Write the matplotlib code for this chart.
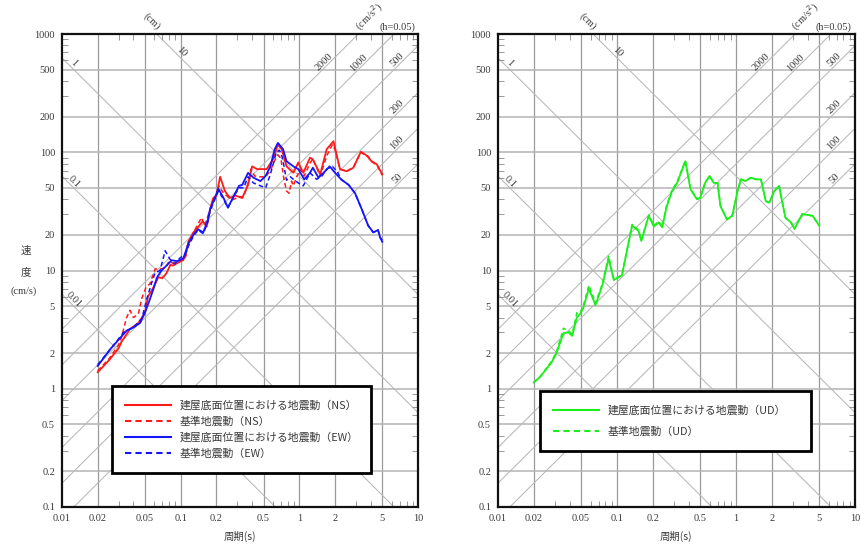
import numpy as np
import matplotlib
matplotlib.use("Agg")
import matplotlib.pyplot as plt
from matplotlib.ticker import FixedLocator, NullFormatter, LogLocator
from matplotlib.patches import Rectangle
from matplotlib.lines import Line2D

# ---------------- data ----------------
# NS: building-base motion (solid red) and reference ground motion (dashed red)
ns_bld_T = [0.02, 0.025, 0.03, 0.0318, 0.035, 0.0374, 0.044, 0.05, 0.053, 0.059, 0.065, 0.07, 0.076,
            0.082, 0.086, 0.093, 0.1, 0.105, 0.11, 0.116, 0.128, 0.141, 0.153, 0.166, 0.177, 0.188, 0.2,
            0.215, 0.236, 0.26, 0.29, 0.33, 0.37, 0.4, 0.44, 0.53, 0.6, 0.66, 0.71, 0.78, 0.89, 0.98,
            1.08, 1.23, 1.3, 1.5, 1.7, 1.94, 2.2, 2.5, 2.85, 3.3, 3.8, 4.0, 4.5, 5.0]
ns_bld_V = [1.38, 1.75, 2.2, 2.5, 2.9, 3.2, 3.6, 4.4, 6.0, 7.2, 8.8, 8.6, 9.5,
            11.2, 11.0, 11.5, 12.0, 12.2, 13.5, 17.5, 21, 23.5, 26, 23.5, 33, 41, 43,
            62, 47, 41, 43, 41, 53, 76, 72, 72, 87, 116, 106, 76, 67, 82,
            67, 90, 87, 65, 106, 124, 72, 69, 74, 101, 92, 85, 79, 65]
ns_ref_T = [0.02, 0.025, 0.03, 0.0318, 0.035, 0.0374, 0.04, 0.044, 0.047, 0.051, 0.055, 0.061, 0.067,
            0.074, 0.08, 0.086, 0.093, 0.1, 0.11, 0.116, 0.128, 0.141, 0.15, 0.16, 0.177, 0.188, 0.2,
            0.21, 0.23, 0.25, 0.28, 0.31, 0.34, 0.37, 0.39, 0.42, 0.46, 0.52, 0.57, 0.62, 0.66, 0.7,
            0.74, 0.78, 0.82, 0.86, 0.89, 0.95, 1.02, 1.1, 1.23, 1.3, 1.5, 1.7, 1.9, 2.0, 2.2, 2.5,
            2.85, 3.3, 3.8, 4.0, 4.5, 5.0]
ns_ref_V = [1.42, 1.8, 2.35, 2.75, 4.0, 4.6, 4.0, 4.3, 5.8, 7.2, 7.7, 10.3, 10.3,
            10.5, 12.0, 11.5, 11.5, 12.0, 13.0, 17.0, 21, 25, 28, 24, 33, 40, 43,
            52, 45, 42, 40, 42, 42, 55, 72, 63, 62, 62, 70, 85, 95, 88,
            60, 47, 45, 57, 52, 62, 72, 63, 81, 88, 63, 93, 116, 105, 72, 69,
            74, 100, 91, 84, 78, 64]
# EW
ew_bld_T = [0.02, 0.0254, 0.03, 0.035, 0.04, 0.0455, 0.05, 0.055, 0.059, 0.063, 0.069, 0.076, 0.084,
            0.093, 0.105, 0.116, 0.128, 0.14, 0.155, 0.17, 0.177, 0.188, 0.208, 0.23, 0.25, 0.28,
            0.31, 0.33, 0.37, 0.41, 0.47, 0.52, 0.57, 0.62, 0.66, 0.73, 0.78, 0.89, 0.98, 1.1, 1.23,
            1.3, 1.45, 1.6, 1.8, 2.0, 2.25, 2.6, 2.95, 3.2, 3.4, 3.8, 4.2, 4.6, 4.8, 5.0]
ew_bld_V = [1.56, 2.15, 2.6, 3.1, 3.3, 3.6, 4.4, 5.7, 7.0, 8.7, 10.0, 11.0, 12.2,
            12.0, 12.6, 16.8, 20, 22.3, 21, 27, 33, 38, 49, 41, 34, 42.5,
            52, 53, 67, 61, 57, 63, 76, 106, 120, 106, 84, 76, 72, 59, 67,
            74, 61, 67, 76, 67, 59, 53, 45, 37, 32, 24, 21, 22, 19, 17.5]
ew_ref_T = [0.02, 0.025, 0.03, 0.033, 0.04, 0.047, 0.052, 0.057, 0.061, 0.067, 0.074, 0.081, 0.089,
            0.099, 0.109, 0.116, 0.128, 0.14, 0.155, 0.17, 0.177, 0.188, 0.208, 0.23, 0.25, 0.28,
            0.31, 0.34, 0.37, 0.41, 0.47, 0.52, 0.57, 0.64, 0.68, 0.72, 0.78, 0.84, 0.89, 0.98, 1.08,
            1.23, 1.4, 1.55, 1.7, 1.9, 2.1, 2.25, 2.6, 2.95, 3.2, 3.4, 3.8, 4.2, 4.6, 4.8, 5.0]
ew_ref_V = [1.6, 2.1, 2.65, 3.0, 3.3, 3.9, 5.8, 7.9, 9.6, 10.0, 14.7, 12.5, 11.4,
            12.8, 13.5, 16.0, 19.5, 22, 20.5, 26, 32, 37, 47, 40, 34, 42,
            50, 50, 62, 55, 52, 50, 65, 100, 104, 90, 58, 62, 59, 55, 52,
            67, 59, 63, 72, 76, 68, 59, 53, 45, 37, 32, 24, 21, 22, 19, 18]
# UD
ud_bld_T = [0.02, 0.0226, 0.0283, 0.031, 0.0355, 0.039, 0.042, 0.046, 0.049, 0.052, 0.058, 0.066,
            0.075, 0.085, 0.094, 0.104, 0.11, 0.134, 0.152, 0.16, 0.185, 0.204, 0.224, 0.24, 0.26,
            0.29, 0.32, 0.375, 0.415, 0.47, 0.5, 0.55, 0.6, 0.65, 0.7, 0.74, 0.84, 0.93, 1.03, 1.1,
            1.2, 1.33, 1.47, 1.62, 1.78, 1.9, 2.1, 2.3, 2.6, 2.9, 3.1, 3.6, 4.4, 5.0]
ud_bld_V = [1.13, 1.26, 1.68, 2.0, 2.95, 3.0, 2.8, 4.0, 4.3, 4.8, 7.0, 5.1,
            7.4, 12.6, 8.3, 8.8, 9.1, 24, 21.5, 17.8, 29, 23.5, 25.5, 23.2, 34,
            47, 55, 84, 48.5, 40, 41, 55, 63, 55, 55, 35, 27, 29, 47, 59,
            57, 61, 59, 59, 38.5, 37.5, 47, 52, 28, 25.5, 22.5, 30, 29, 24]
ud_ref_T = list(ud_bld_T)
ud_ref_V = [1.13, 1.27, 1.72, 2.05, 3.25, 3.1, 2.9, 4.4, 4.4, 5.0, 7.5, 5.3,
            7.6, 13.2, 8.5, 8.9, 9.2, 24.5, 22, 18, 29.5, 24, 26, 23.5, 35,
            48, 56, 85, 49, 40.5, 41, 55.5, 63, 55, 55, 35.5, 27, 29, 47, 59,
            57, 61, 59, 59, 38.5, 37.5, 47, 52, 28, 25.5, 22.5, 30, 29, 24]

disp_lines = [0.01, 0.1, 1, 10]
disp_labels = ["0.01", "0.1", "1", "10"]
acc_lines = [50, 100, 200, 500, 1000, 2000]
acc_labels = ["50", "100", "200", "500", "1000", "2000"]

x_ticks = [0.01, 0.02, 0.05, 0.1, 0.2, 0.5, 1, 2, 5, 10]
x_tick_labels = ["0.01", "0.02", "0.05", "0.1", "0.2", "0.5", "1", "2", "5", "10"]
y_ticks = [0.1, 0.2, 0.5, 1, 2, 5, 10, 20, 50, 100, 200, 500, 1000]
y_tick_labels = ["0.1", "0.2", "0.5", "1", "2", "5", "10", "20", "50", "100", "200", "500", "1000"]

legend_left = ["建屋底面位置における地震動（NS）", "基準地震動（NS）",
               "建屋底面位置における地震動（EW）", "基準地震動（EW）"]
legend_right = ["建屋底面位置における地震動（UD）", "基準地震動（UD）"]

# ---------------- style ----------------
W, H = 862, 544
SERIF = ["Liberation Serif", "DejaVu Serif"]
CJK = ["Noto Sans CJK JP", "DejaVu Sans"]
plt.rcParams["font.family"] = CJK

fig = plt.figure(figsize=(W / 100, H / 100), dpi=100)


def px_axes(x0, y0, x1, y1):
    return fig.add_axes([x0 / W, 1 - y1 / H, (x1 - x0) / W, (y1 - y0) / H])


def ftext(x, y, s, **kw):
    fig.text(x / W, 1 - y / H, s, **kw)


TP = 2 * np.pi
RED, BLUE, GREEN = "#ff1a1a", "#1414ff", "#19f019"
TXT = "#3a3a3a"


def setup(ax):
    ax.set_xscale("log")
    ax.set_yscale("log")
    ax.set_xlim(0.01, 10)
    ax.set_ylim(0.1, 1000)
    for v in x_ticks[1:-1]:
        ax.axvline(v, color="#9a9a9a", lw=0.9, zorder=1)
    for v in y_ticks[1:-1]:
        ax.axhline(v, color="#b4b4b4", lw=1.1, zorder=1)
    T = np.logspace(-2.2, 1.2, 50)
    for d in disp_lines:
        ax.plot(T, TP * d / T, color="#b8b8b8", lw=0.75, zorder=1)
    for a in acc_lines:
        ax.plot(T, a * T / TP, color="#b8b8b8", lw=0.75, zorder=1)
    # diagonal labels
    for lab in disp_labels:
        d = float(lab)
        t = 0.095 if d >= 10 else 0.0118
        ax.text(t, TP * d / t, lab, rotation=-45, rotation_mode="anchor", ha="center",
                va="bottom", fontsize=7.5, family=SERIF, color=TXT, zorder=3)
    for lab in acc_labels:
        a = float(lab)
        t = {2000: 1.71, 1000: 3.39}.get(a, 7.1)
        ax.text(t, a * t / TP, lab, rotation=45, rotation_mode="anchor", ha="center",
                va="bottom", fontsize=7.5, family=SERIF, color=TXT, zorder=3)
    ax.xaxis.set_major_locator(FixedLocator(x_ticks))
    ax.set_xticklabels(x_tick_labels, family=SERIF, fontsize=7.5)
    ax.yaxis.set_major_locator(FixedLocator(y_ticks))
    ax.set_yticklabels(y_tick_labels, family=SERIF, fontsize=7.5)
    ax.xaxis.set_minor_locator(LogLocator(base=10, subs=(3, 4, 6, 7, 8, 9), numticks=20))
    ax.yaxis.set_minor_locator(LogLocator(base=10, subs=(3, 4, 6, 7, 8, 9), numticks=20))
    ax.xaxis.set_minor_formatter(NullFormatter())
    ax.yaxis.set_minor_formatter(NullFormatter())
    ax.tick_params(which="major", length=0, pad=5, colors=TXT)
    ax.tick_params(which="minor", direction="in", length=4, width=0.6, color="#888888",
                   top=True, right=True)
    for sp in ax.spines.values():
        sp.set_linewidth(1.6)
        sp.set_color("#111111")


def legend_box(ax, box, handles, labels, spacing):
    x0, y0, x1, y1 = box
    ax.add_patch(Rectangle((x0, y0), x1 - x0, y1 - y0, transform=ax.transAxes,
                           facecolor="white", edgecolor="black", lw=2.0, zorder=5))
    leg = ax.legend(handles, labels, loc="center left", bbox_to_anchor=(x0 + 0.01, (y0 + y1) / 2),
                    frameon=False, handlelength=4.2, handletextpad=0.8,
                    labelspacing=spacing, prop={"family": CJK, "size": 7.8})
    leg.set_zorder(6)
    for t in leg.get_texts():
        t.set_color(TXT)


# ---------------- left panel ----------------
axL = px_axes(62, 34, 418, 507)
setup(axL)
axL.plot(ns_bld_T, ns_bld_V, color=RED, lw=1.3, zorder=4)
axL.plot(ns_ref_T, ns_ref_V, color=RED, lw=1.1, ls=(0, (3, 2)), zorder=4)
axL.plot(ew_bld_T, ew_bld_V, color=BLUE, lw=1.3, zorder=4)
axL.plot(ew_ref_T, ew_ref_V, color=BLUE, lw=1.1, ls=(0, (3, 2)), zorder=4)
hL = [Line2D([], [], color=RED, lw=1.5), Line2D([], [], color=RED, lw=1.5, ls=(0, (3, 2))),
      Line2D([], [], color=BLUE, lw=1.5), Line2D([], [], color=BLUE, lw=1.5, ls=(0, (3, 2)))]
legend_box(axL, (0.140, 0.072, 0.868, 0.256), hL, legend_left, 0.5)

# ---------------- right panel ----------------
axR = px_axes(498, 34, 855, 507)
setup(axR)
axR.plot(ud_bld_T, ud_bld_V, color=GREEN, lw=1.3, zorder=4)
axR.plot(ud_ref_T, ud_ref_V, color=GREEN, lw=1.1, ls=(0, (3, 2)), zorder=4)
hR = [Line2D([], [], color=GREEN, lw=1.5), Line2D([], [], color=GREEN, lw=1.5, ls=(0, (3, 2)))]
legend_box(axR, (0.118, 0.118, 0.877, 0.245), hR, legend_right, 0.95)

# ---------------- annotations ----------------
for ox in (0, 436):
    ftext(152 + ox, 21, "(cm)", rotation=-45, ha="center", va="center", fontsize=7.5,
          family=SERIF, color=TXT)
    ftext(369 + ox, 17, "(cm/s$^2$)", rotation=45, ha="center", va="center", fontsize=7.5,
          family=SERIF, color=TXT)
    ftext(397 + ox, 27, "(h=0.05)", ha="center", va="center", fontsize=7.5,
          family=SERIF, color=TXT)
    ftext(240 + ox, 536, "周期(s)", ha="center", va="center", fontsize=7.5, color=TXT)

ftext(26, 251, "速", ha="center", va="center", fontsize=7.5, color=TXT)
ftext(26, 272, "度", ha="center", va="center", fontsize=7.5, color=TXT)
ftext(24, 291, "(cm/s)", ha="center", va="center", fontsize=7.5, family=SERIF, color=TXT)

fig.savefig("out.png", dpi=100)
